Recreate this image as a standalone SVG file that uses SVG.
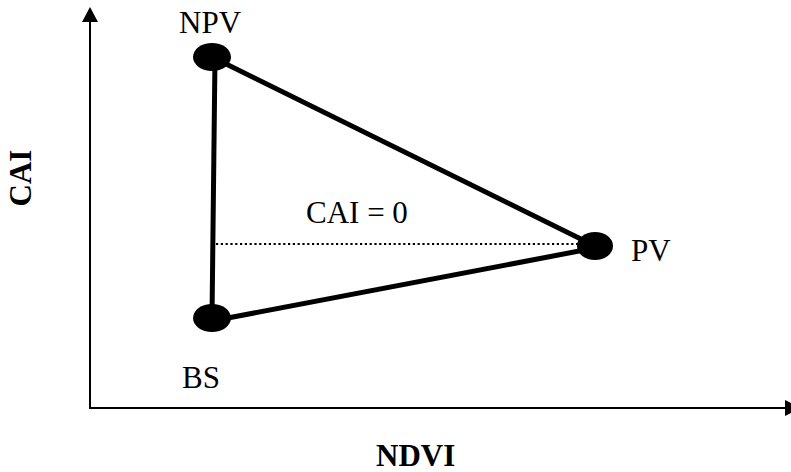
<svg xmlns="http://www.w3.org/2000/svg" width="791" height="472" viewBox="0 0 791 472">
<style>
.t{font-family:"Liberation Serif","Times New Roman",serif;font-size:31px;fill:#000}
.b{font-weight:bold}
.edge{stroke:#000;stroke-width:5;fill:none;stroke-linecap:round}
.axis{stroke:#000;stroke-width:2;fill:none}
.node{fill:#000}
</style>
<rect width="791" height="472" fill="#fff"/>
<g id="axes">
<line class="axis" x1="90" y1="20" x2="90" y2="408"/>
<polygon points="90,7 82,22 98,22" fill="#000"/>
<line class="axis" x1="89" y1="408" x2="787" y2="408"/>
<polygon points="785,400 785,416 801,408" fill="#000"/>
<text class="t b" text-anchor="middle" transform="translate(31,178) rotate(-90)">CAI</text>
<text class="t b" x="376" y="466">NDVI</text>
</g>
<g id="connectors">
<line class="edge" x1="215" y1="57" x2="212" y2="318"/>
<line class="edge" x1="212" y1="57" x2="595" y2="246"/>
<line class="edge" x1="212" y1="321" x2="595" y2="248"/>
<line x1="216" y1="244" x2="582" y2="244" stroke="#000" stroke-width="2.2" stroke-dasharray="2.2 2.6"/>
<text class="t" x="306" y="223">CAI = 0</text>
</g>
<g id="NPV">
<ellipse class="node" cx="212" cy="57" rx="19" ry="14"/>
<text class="t" x="179" y="33">NPV</text>
</g>
<g id="BS">
<ellipse class="node" cx="212" cy="318" rx="19" ry="14"/>
<text class="t" x="182" y="388">BS</text>
</g>
<g id="PV">
<ellipse class="node" cx="595" cy="246" rx="18" ry="14"/>
<text class="t" x="631" y="261">PV</text>
</g>
</svg>
